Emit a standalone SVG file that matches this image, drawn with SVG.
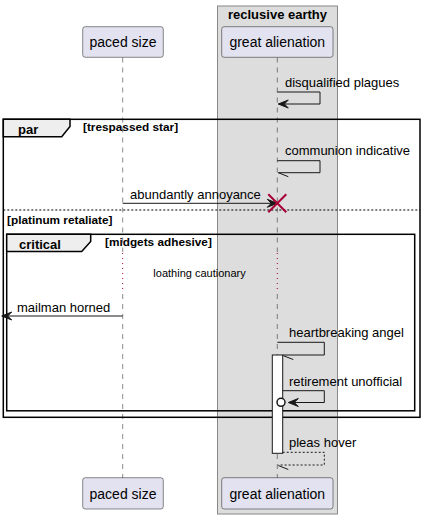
<svg xmlns="http://www.w3.org/2000/svg" width="426" height="519" viewBox="0 0 426 519">
<defs>
<style>
.t{font-family:"Liberation Sans",Arial,sans-serif;fill:#000}
.p{font-size:14px}
.m{font-size:13px}
.b13{font-size:13px;font-weight:bold}
.b11{font-size:11.8px;font-weight:bold}
.s11{font-size:11px}
.part{fill:#E2E2F0;stroke:#181818;stroke-width:0.5}
.life{stroke:#181818;stroke-width:0.5;stroke-dasharray:5,5;fill:none}
.dly{stroke:#A80036;stroke-width:1;stroke-dasharray:1,4;fill:none}
.msg{stroke:#181818;stroke-width:1;fill:none}
.dmsg{stroke:#181818;stroke-width:1;fill:none;stroke-dasharray:2,2}
.head{fill:#181818;stroke:#181818;stroke-width:1}
.frame{fill:none;stroke:#000;stroke-width:1.5}
.tab{fill:#EEEEEE;stroke:#000;stroke-width:1.5}
</style>
</defs>
<g id="box-reclusive-earthy">
<rect x="217.5" y="6" width="120" height="508" fill="#DDDDDD" stroke="#888888" stroke-width="1"/>
<text class="t b13" x="277.5" y="19" text-anchor="middle">reclusive earthy</text>
</g>
<g id="lifelines">
<line class="life" x1="122.7" y1="57.5" x2="122.7" y2="252"/>
<line class="dly" x1="122.7" y1="253" x2="122.7" y2="293"/>
<line class="life" x1="122.7" y1="294" x2="122.7" y2="478"/>
<line class="life" x1="277.3" y1="57.5" x2="277.3" y2="252"/>
<line class="dly" x1="277.3" y1="253" x2="277.3" y2="293"/>
<line class="life" x1="277.3" y1="294" x2="277.3" y2="478"/>
</g>
<g id="p-paced-size">
<rect class="part" x="82.7" y="26.7" width="80.6" height="30.6" rx="2.5"/>
<text class="t p" x="123" y="47" text-anchor="middle">paced size</text>
</g>
<g id="p-great-alienation">
<rect class="part" x="221.7" y="26.7" width="111.3" height="30.6" rx="2.5"/>
<text class="t p" x="277.3" y="47" text-anchor="middle">great alienation</text>
</g>
<g id="p-paced-size-bottom">
<rect class="part" x="82.7" y="477.7" width="80.6" height="31.3" rx="2.5"/>
<text class="t p" x="123" y="498.5" text-anchor="middle">paced size</text>
</g>
<g id="p-great-alienation-bottom">
<rect class="part" x="221.7" y="477.7" width="111.3" height="31.3" rx="2.5"/>
<text class="t p" x="277.3" y="498.5" text-anchor="middle">great alienation</text>
</g>
<g id="frame-par">
<rect class="frame" x="3.3" y="119.3" width="416.7" height="298"/>
<polygon class="tab" points="3.3,119.3 70,119.3 70,126.5 61.7,136.7 3.3,136.7"/>
<text class="t b13" x="18" y="133.5">par</text>
<text class="t b11" x="83" y="130.5">[trespassed star]</text>
<line x1="3.3" y1="210" x2="420" y2="210" stroke="#000" stroke-width="1" stroke-dasharray="2,2"/>
<text class="t b11" x="7" y="223.5">[platinum retaliate]</text>
</g>
<g id="frame-critical">
<rect class="frame" x="6.7" y="234.3" width="408" height="176.5"/>
<polygon class="tab" points="6.7,234.3 90.7,234.3 90.7,241.5 81.7,251.5 6.7,251.5"/>
<text class="t b13" x="19" y="248.5">critical</text>
<text class="t b11" x="105" y="246">[midgets adhesive]</text>
</g>
<g id="activation">
<rect x="272.3" y="355" width="10.4" height="98.3" fill="#FFFFFF" stroke="#181818" stroke-width="1"/>
</g>
<g id="connectors">
<g id="m-disqualified-plagues">
<polyline class="msg" points="277.3,92 320,92 320,104 278.5,104"/>
<polygon class="head" points="278.3,104 288.3,100 284.3,104 288.3,108"/>
<text class="t m" x="285" y="87">disqualified plagues</text>
</g>
<g id="m-communion-indicative">
<polyline class="msg" points="277.3,160.7 320,160.7 320,172.7 278.3,172.7"/>
<line class="msg" x1="278.3" y1="172.7" x2="288.3" y2="176.7"/>
<text class="t m" x="285" y="155">communion indicative</text>
</g>
<g id="m-abundantly-annoyance">
<line class="msg" x1="122.7" y1="203.3" x2="274" y2="203.3"/>
<polygon class="head" points="277.3,203.3 267.3,199.3 271.3,203.3 267.3,207.3"/>
<line x1="268.3" y1="194.3" x2="286.3" y2="212.3" stroke="#A80036" stroke-width="2"/>
<line x1="268.3" y1="212.3" x2="286.3" y2="194.3" stroke="#A80036" stroke-width="2"/>
<text class="t m" x="130" y="198.5">abundantly annoyance</text>
</g>
<g id="delay">
<text class="t s11" x="199.5" y="277" text-anchor="middle">loathing cautionary</text>
</g>
<g id="m-mailman-horned">
<line class="msg" x1="122.7" y1="316" x2="4" y2="316"/>
<polygon class="head" points="1.7,316 11.7,312 7.7,316 11.7,320"/>
<text class="t m" x="17" y="311.5">mailman horned</text>
</g>
<g id="m-heartbreaking-angel">
<polyline class="msg" points="277.3,342.3 324.3,342.3 324.3,355 282.7,355"/>
<line class="msg" x1="283.3" y1="355.7" x2="293.3" y2="359.5"/>
<text class="t m" x="289" y="337">heartbreaking angel</text>
</g>
<g id="m-retirement-unofficial">
<polyline class="msg" points="282.7,390.7 324.3,390.7 324.3,402.5 294.3,402.5"/>
<polygon class="head" points="288.3,402.5 298.3,398.5 294.3,402.5 298.3,406.5"/>
<circle cx="281" cy="402.3" r="4" fill="#FFFFFF" stroke="#181818" stroke-width="1.5"/>
<text class="t m" x="289" y="385.5">retirement unofficial</text>
</g>
<g id="m-pleas-hover">
<polyline class="dmsg" points="282.7,452.3 324.3,452.3 324.3,465 278.3,465"/>
<line class="msg" x1="278.3" y1="465.5" x2="288.3" y2="469.5"/>
<text class="t m" x="289" y="447">pleas hover</text>
</g>
</g>
</svg>
